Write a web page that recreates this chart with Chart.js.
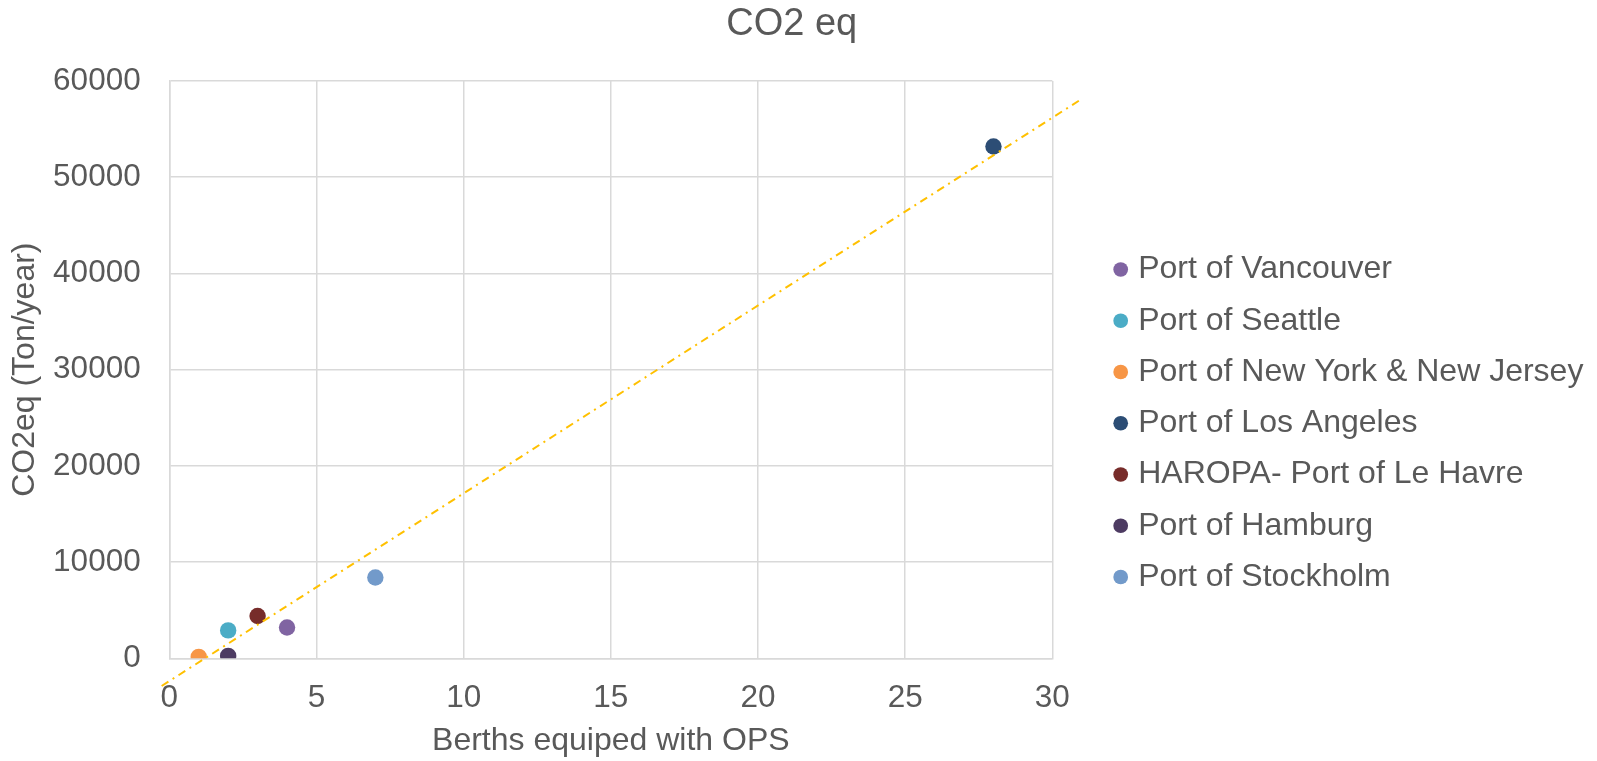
<!DOCTYPE html>
<html>
<head>
<meta charset="utf-8">
<script src="https://cdn.jsdelivr.net/npm/chart.js@4"></script>
<style>
html,body{margin:0;padding:0;background:#fff;}
#wrap{width:1597px;height:761px;position:relative;}
</style>
</head>
<body>
<div id="wrap"><canvas id="c" width="1597" height="761"></canvas></div>
<script>
const ports = ['Port of Vancouver','Port of Seattle','Port of New York & New Jersey','Port of Los Angeles','HAROPA- Port of Le Havre','Port of Hamburg','Port of Stockholm'];
const berths = [4, 2, 1, 28, 3, 2, 7];
const co2 = [3200, 2900, 150, 53200, 4400, 250, 8400];
const portColors = ['#8064A2','#4BACC6','#F79646','#2C4D75','#772C2A','#4D3B62','#729ACA'];
const trendX = [-0.26, 31];
const trendY = [-2880, 58140];
const xTicks = [0, 5, 10, 15, 20, 25, 30];
const yTicks = [0, 10000, 20000, 30000, 40000, 50000, 60000];

const FONT = "'Liberation Sans', Arial, sans-serif";
const TXT = '#595959';
const GRID = '#D9D9D9';

const datasets = [{
  label: 'trend',
  data: trendX.map((x, i) => ({x: x, y: trendY[i]})),
  showLine: true,
  borderColor: '#FFC000',
  borderWidth: 2,
  borderDash: [8, 5, 2, 5],
  pointRadius: 0,
  clip: false,
  order: 0,
  fill: false
}];
ports.forEach((p, i) => {
  datasets.push({
    label: p,
    data: [{x: berths[i], y: co2[i]}],
    backgroundColor: portColors[i],
    borderColor: portColors[i],
    borderWidth: 0,
    pointRadius: 8.2,
    pointHoverRadius: 8.2,
    pointStyle: 'circle',
    order: 1
  });
});

new Chart(document.getElementById('c'), {
  type: 'scatter',
  data: { datasets },
  options: {
    responsive: false,
    animation: false,
    events: [],
    layout: { padding: { left: -10, right: 3.6, top: 0, bottom: 0 } },
    plugins: {
      tooltip: { enabled: false },
      title: {
        display: true,
        text: 'CO2 eq',
        color: TXT,
        font: { family: FONT, size: 38, weight: 'normal', lineHeight: 1.2 },
        padding: { top: 1.3, bottom: 34.1 }
      },
      legend: {
        position: 'right',
        align: 'center',
        maxWidth: 620,
        title: { display: true, text: ' ', font: { size: 1, lineHeight: 1 }, padding: { top: 42.25, bottom: 42.25 } },
        labels: {
          filter: (item) => item.text !== 'trend',
          usePointStyle: true,
          boxWidth: 3,
          boxHeight: 10.4,
          padding: 19.25,
          color: TXT,
          font: { family: FONT, size: 32 }
        }
      }
    },
    scales: {
      x: {
        type: 'linear',
        min: 0, max: 30,
        afterBuildTicks: (s) => { s.ticks = xTicks.map(v => ({value: v})); },
        afterFit: (s) => { s.height = 102.7; },
        grid: { color: GRID, lineWidth: 1.5, drawTicks: false },
        border: { color: GRID, width: 1.5 },
        ticks: { color: TXT, padding: 20.7, font: { family: FONT, size: 31.5 }, callback: (v) => String(v) },
        title: { display: true, text: 'Berths equiped with OPS', color: TXT, font: { family: FONT, size: 32 }, padding: { top: 0, bottom: 0.5 } }
      },
      y: {
        type: 'linear',
        min: 0, max: 60000,
        afterBuildTicks: (s) => { s.ticks = yTicks.map(v => ({value: v})); },
        afterFit: (s) => { s.width = 179.3; },
        grid: { color: GRID, lineWidth: 1.5, drawTicks: false },
        border: { color: GRID, width: 1.5 },
        ticks: { color: TXT, padding: 28.6, font: { family: FONT, size: 31.5 }, callback: (v) => String(v) },
        title: { display: true, text: 'CO2eq (Ton/year)', color: TXT, font: { family: FONT, size: 32 }, padding: { top: 16.4, bottom: 0 } }
      },
      gap: {
        type: 'linear',
        position: 'right',
        display: true,
        grid: { display: false, drawTicks: false },
        border: { display: false },
        ticks: { display: false },
        afterFit: (s) => { s.width = 47.6; }
      }
    }
  }
});
</script>
</body>
</html>
